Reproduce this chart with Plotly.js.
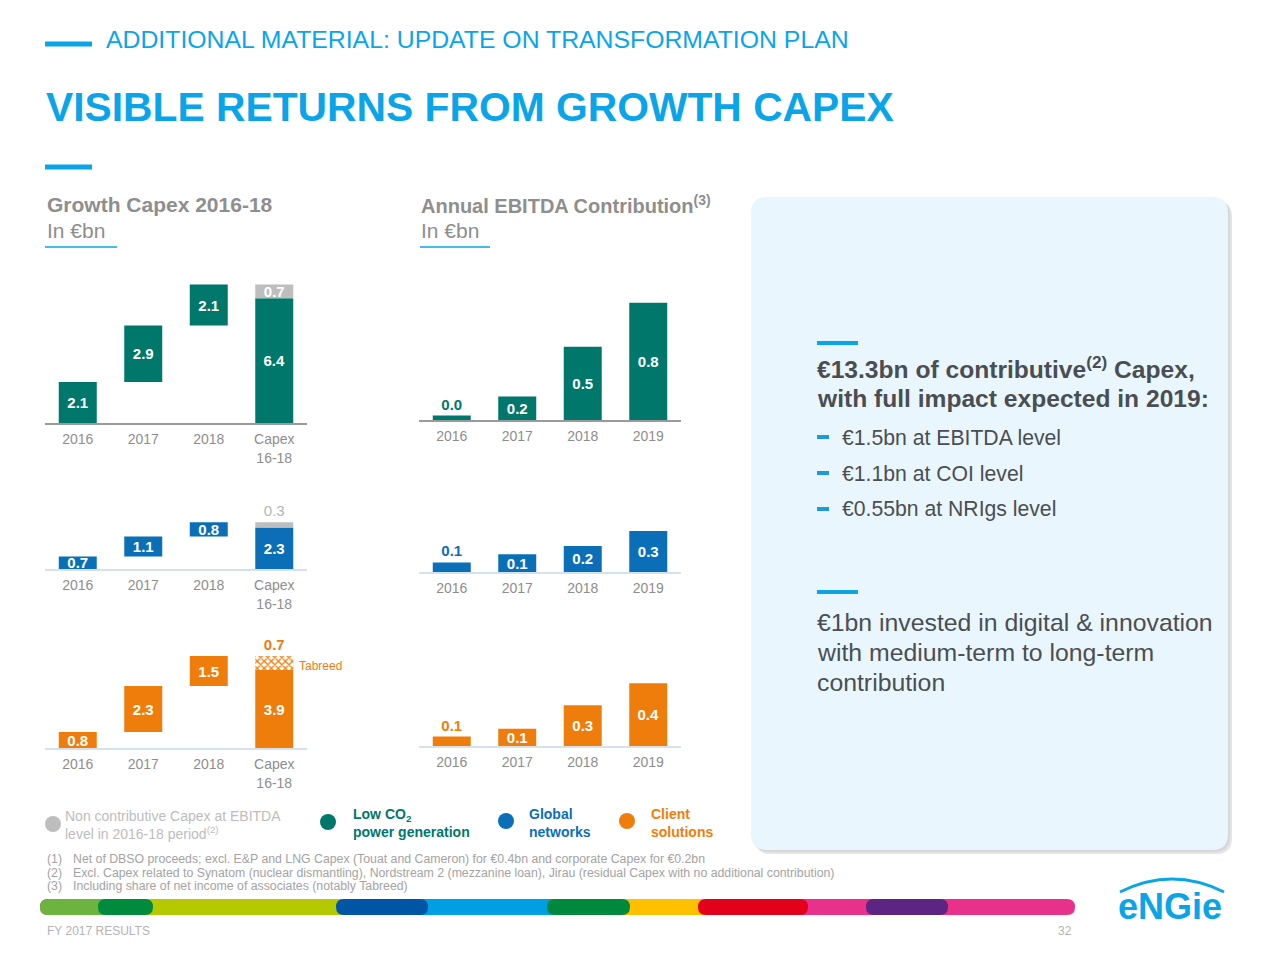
<!DOCTYPE html>
<html><head><meta charset="utf-8">
<script src="https://cdn.plot.ly/plotly-3.0.1.min.js"></script>
<style>html,body{margin:0;padding:0;background:#fff;}#chart{width:1280px;height:960px;}</style>
</head><body><div id="chart"></div>
<script>
// ---------- DATA ----------
const capexCats = ['2016', '2017', '2018', 'Capex<br>16-18'];
const ebitdaCats = ['2016', '2017', '2018', '2019'];

// Growth Capex 2016-18 (EUR bn)
const lowCo2Capex = [2.1, 2.9, 2.1];
const lowCo2Contrib = 6.4;
const lowCo2NonContrib = 0.7;
const networksCapex = [0.7, 1.1, 0.8];
const networksContrib = 2.3;
const networksNonContrib = 0.3;
const clientCapex = [0.8, 2.3, 1.5];
const clientContrib = 3.9;
const clientTabreed = 0.7;

// Annual EBITDA contribution (EUR bn)
const lowCo2Ebitda = [0.03, 0.16, 0.5, 0.8];
const networksEbitda = [0.07, 0.13, 0.19, 0.3];
const clientEbitda = [0.06, 0.11, 0.26, 0.4];

// ---------- STYLE ----------
const TEAL = '#00776B', BLUE = '#0B6FB8', ORANGE = '#EF7D0B', GREY = '#BEBEBE';
const ENGIE = '#0AA5E8', TXT = '#4A4E53', LBL = '#8E8E8E';
const FONT = 'Liberation Sans, Arial, Helvetica, sans-serif';
const W = 1280, H = 960;
const X = p => p / W, Y = p => 1 - p / H;
const fmt = v => '<b>' + v.toFixed(1) + '</b>';

// subplot geometry (pixels)
const panels = [
  {xa: 'x',  ya: 'y',  x0: 45,  x1: 307, base: 423, top: 280, scale: 19.5, line: '#9a9a9a'},
  {xa: 'x2', ya: 'y2', x0: 419, x1: 681, base: 420, top: 295, scale: 146.6, line: '#9a9a9a'},
  {xa: 'x3', ya: 'y3', x0: 45,  x1: 307, base: 569, top: 505, scale: 18, line: '#d5e2ec'},
  {xa: 'x4', ya: 'y4', x0: 419, x1: 681, base: 572, top: 525, scale: 137, line: '#d5e2ec'},
  {xa: 'x5', ya: 'y5', x0: 45,  x1: 307, base: 748, top: 640, scale: 20, line: '#d5e2ec'},
  {xa: 'x6', ya: 'y6', x0: 419, x1: 681, base: 746, top: 675, scale: 157, line: '#d5e2ec'}
];

function capexMain(vals, contrib, color, p) {
  const bases = []; let c = 0;
  vals.forEach(v => { bases.push(c); c += v; });
  const ys = vals.concat([contrib]);
  return {
    type: 'bar', x: capexCats, y: ys, base: bases.concat([0]),
    marker: {color: color, line: {width: 0}}, width: 0.58,
    text: ys.map(fmt), textposition: 'inside', insidetextanchor: 'middle',
    textangle: 0, constraintext: 'none',
    textfont: {color: '#ffffff', size: 15, family: FONT},
    xaxis: p.xa, yaxis: p.ya, hoverinfo: 'skip', cliponaxis: false
  };
}
function capexExtra(val, baseVal, marker, textPos, textFont, p, bold) {
  return {
    type: 'bar', x: [capexCats[3]], y: [val], base: [baseVal],
    marker: marker, width: 0.58,
    text: [bold ? fmt(val) : val.toFixed(1)], textposition: textPos, insidetextanchor: 'middle',
    textangle: 0, constraintext: 'none', textfont: textFont,
    xaxis: p.xa, yaxis: p.ya, hoverinfo: 'skip', cliponaxis: false
  };
}
function ebitdaTrace(vals, color, p) {
  return {
    type: 'bar', x: ebitdaCats, y: vals,
    marker: {color: color, line: {width: 0}}, width: 0.58,
    text: vals.map(fmt), textposition: ['outside', 'inside', 'inside', 'inside'],
    insidetextanchor: 'middle', textangle: 0, constraintext: 'none',
    textfont: {color: [color, '#fff', '#fff', '#fff'], size: 15, family: FONT},
    xaxis: p.xa, yaxis: p.ya, hoverinfo: 'skip', cliponaxis: false
  };
}

const data = [
  capexMain(lowCo2Capex, lowCo2Contrib, TEAL, panels[0]),
  capexExtra(lowCo2NonContrib, lowCo2Contrib, {color: GREY, line: {width: 0}}, 'inside',
    {color: '#ffffff', size: 15, family: FONT}, panels[0], true),
  ebitdaTrace(lowCo2Ebitda, TEAL, panels[1]),
  capexMain(networksCapex, networksContrib, BLUE, panels[2]),
  capexExtra(networksNonContrib, networksContrib, {color: GREY, line: {width: 0}}, 'outside',
    {color: '#b5b5b5', size: 15, family: FONT}, panels[2], false),
  ebitdaTrace(networksEbitda, BLUE, panels[3]),
  capexMain(clientCapex, clientContrib, ORANGE, panels[4]),
  capexExtra(clientTabreed, clientContrib,
    {color: ORANGE, line: {width: 0}, pattern: {shape: 'x', fgcolor: ORANGE, bgcolor: '#ffffff', size: 5, solidity: 0.45}},
    'outside', {color: ORANGE, size: 15, family: FONT}, panels[4], true),
  ebitdaTrace(clientEbitda, ORANGE, panels[5])
];

const layout = {
  width: W, height: H, margin: {l: 0, r: 0, t: 0, b: 0},
  paper_bgcolor: '#ffffff', plot_bgcolor: 'rgba(0,0,0,0)',
  showlegend: false, barmode: 'overlay',
  font: {family: FONT, color: TXT},
  shapes: [], annotations: []
};

panels.forEach((p, i) => {
  const n = i === 0 ? '' : String(i + 1);
  layout['xaxis' + n] = {
    domain: [X(p.x0), X(p.x1)], type: 'category', range: [-0.5, 3.5],
    showline: true, linecolor: p.line, linewidth: 1.5, ticks: '', showgrid: false,
    zeroline: false, fixedrange: true, anchor: p.ya, ticklabelstandoff: 3,
    tickfont: {size: 14, color: LBL, family: FONT}
  };
  layout['yaxis' + n] = {
    domain: [Y(p.base), Y(p.top)], range: [0, (p.base - p.top) / p.scale],
    visible: false, fixedrange: true, anchor: p.xa
  };
});

// ---------- SHAPES ----------
const S = layout.shapes;
const pt = (x, y) => X(x) + ',' + Y(y);
function roundRect(x0, y0, x1, y1, r) {
  return 'M' + pt(x0 + r, y0) + ' L' + pt(x1 - r, y0) + ' Q' + pt(x1, y0) + ' ' + pt(x1, y0 + r) +
    ' L' + pt(x1, y1 - r) + ' Q' + pt(x1, y1) + ' ' + pt(x1 - r, y1) +
    ' L' + pt(x0 + r, y1) + ' Q' + pt(x0, y1) + ' ' + pt(x0, y1 - r) +
    ' L' + pt(x0, y0 + r) + ' Q' + pt(x0, y0) + ' ' + pt(x0 + r, y0) + ' Z';
}
function hline(x0, x1, y, w, color) {
  S.push({type: 'line', xref: 'paper', yref: 'paper', x0: X(x0), x1: X(x1), y0: Y(y), y1: Y(y),
    line: {color: color, width: w}});
}
function fillPath(path, color, layer) {
  S.push({type: 'path', xref: 'paper', yref: 'paper', path: path, fillcolor: color,
    line: {width: 0}, layer: layer || 'above'});
}
// right panel with soft shadow
fillPath(roundRect(755, 201, 1232, 854, 16), 'rgba(0,0,0,0.10)', 'below');
fillPath(roundRect(753, 199, 1230, 852, 16), 'rgba(0,0,0,0.06)', 'below');
fillPath(roundRect(751, 197, 1228, 850, 16), '#EAF6FD', 'below');

// accent dashes
hline(45, 92, 44, 5, ENGIE);
hline(45, 92, 167, 5, ENGIE);
hline(45, 117, 247, 1.5, ENGIE);
hline(420, 490, 247, 1.5, ENGIE);
hline(817, 858, 343, 4, ENGIE);
hline(817, 858, 592, 4, ENGIE);
[437, 473, 509].forEach(y => hline(817, 829, y, 4, '#1E9AD6'));

// legend dots
[[53, 824, GREY], [328, 822, TEAL], [506, 821, BLUE], [627, 821, ORANGE]].forEach(d => {
  S.push({type: 'circle', xref: 'paper', yref: 'paper', x0: X(d[0] - 8), x1: X(d[0] + 8),
    y0: Y(d[1] + 8), y1: Y(d[1] - 8), fillcolor: d[2], line: {width: 0}});
});

// colour band at bottom
const bandY0 = 899, bandY1 = 915;
fillPath(roundRect(40, bandY0, 1075, bandY1, 8), '#E8318A');
[[48, 125, '#6CB33F'], [125, 382, '#B5C900'], [382, 588, '#009FE3'], [588, 753, '#FFC000']]
  .forEach(s => fillPath('M' + pt(s[0], bandY0) + ' L' + pt(s[1], bandY0) + ' L' + pt(s[1], bandY1) + ' L' + pt(s[0], bandY1) + ' Z', s[2]));
fillPath(roundRect(40, bandY0, 60, bandY1, 8), '#6CB33F');
[[98, 153, '#008A3E'], [336, 428, '#0055A4'], [547, 630, '#00893D'], [698, 808, '#E2001A'], [866, 948, '#5E2482']]
  .forEach(s => fillPath(roundRect(s[0], bandY0, s[1], bandY1, 8), s[2]));

// logo arc
S.push({type: 'path', xref: 'paper', yref: 'paper',
  path: 'M' + pt(1120, 892) + ' Q' + pt(1172, 866) + ' ' + pt(1224, 892),
  line: {color: ENGIE, width: 3}});

// ---------- TEXT ----------
const A = layout.annotations;
function ann(x, y, text, size, color, opts) {
  A.push(Object.assign({xref: 'paper', yref: 'paper', x: X(x), y: Y(y), text: text,
    showarrow: false, xanchor: 'left', yanchor: 'middle', align: 'left',
    font: {size: size, color: color, family: FONT}}, opts || {}));
}
ann(104, 40, 'ADDITIONAL MATERIAL: UPDATE ON TRANSFORMATION PLAN', 24.8, ENGIE);
ann(44, 107, '<b>VISIBLE RETURNS FROM GROWTH CAPEX</b>', 40.8, ENGIE);

ann(45, 205, '<b>Growth Capex 2016-18</b>', 21, LBL);
ann(45, 231, 'In €bn', 21, LBL);
ann(419, 205, '<b>Annual EBITDA Contribution<sup>(3)</sup></b>', 20, LBL);
ann(419, 231, 'In €bn', 21, LBL);

ann(297, 666, 'Tabreed', 12, ORANGE);

ann(815, 367, '<b>€13.3bn of contributive<sup>(2)</sup> Capex,</b>', 24.6, TXT);
ann(815, 398, '<b>with full impact expected in 2019:</b>', 24.6, TXT);
ann(840, 437, '€1.5bn at EBITDA level', 21.2, TXT);
ann(840, 473, '€1.1bn at COI level', 21.2, TXT);
ann(840, 509, '€0.55bn at NRIgs level', 21.2, TXT);
ann(815, 622, '€1bn invested in digital & innovation', 24.8, TXT);
ann(815, 652, 'with medium-term to long-term', 24.8, TXT);
ann(815, 682, 'contribution', 24.8, TXT);

ann(63, 825, 'Non contributive Capex at EBITDA<br>level in 2016-18 period<sup>(2)</sup>', 14, '#BDBDBD');
ann(351, 823, '<b>Low CO<sub>2</sub><br>power generation</b>', 14, TEAL);
ann(527, 823, '<b>Global<br>networks</b>', 14, BLUE);
ann(649, 823, '<b>Client<br>solutions</b>', 14, ORANGE);

const FN = '#A3A3A3', FS = 12.3;
ann(45, 859, '(1)', FS, FN); ann(71, 859, 'Net of DBSO proceeds; excl. E&P and LNG Capex (Touat and Cameron) for €0.4bn and corporate Capex for €0.2bn', FS, FN);
ann(45, 873, '(2)', FS, FN); ann(71, 873, 'Excl. Capex related to Synatom (nuclear dismantling), Nordstream 2 (mezzanine loan), Jirau (residual Capex with no additional contribution)', FS, FN);
ann(45, 886, '(3)', FS, FN); ann(71, 886, 'Including share of net income of associates (notably Tabreed)', FS, FN);

ann(45, 931, 'FY 2017 RESULTS', 12, '#B3B3B3');
ann(1074, 931, '32', 12, '#B3B3B3', {xanchor: 'right'});
ann(1170, 906, '<b>eNGie</b>', 36, ENGIE, {xanchor: 'center'});

Plotly.newPlot('chart', data, layout, {staticPlot: true, displayModeBar: false});
</script>
</body></html>
